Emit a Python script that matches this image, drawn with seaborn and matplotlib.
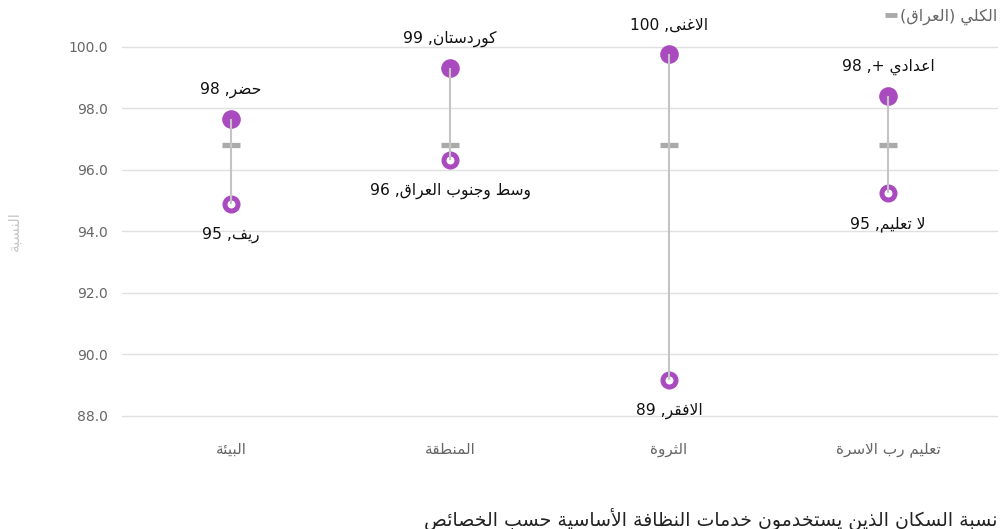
import re
import matplotlib
matplotlib.use("Agg")
import matplotlib.pyplot as plt
from matplotlib.lines import Line2D
import seaborn as sns
import pandas as pd

# ---------------- data ----------------
categories = ['البيئة', 'المنطقة', 'الثروة', 'تعليم رب الاسرة']
high_names = ['حضر', 'كوردستان', 'الاغنى', 'اعدادي +']
high_values = [97.66, 99.32, 99.77, 98.41]
low_names = ['ريف', 'وسط وجنوب العراق', 'الافقر', 'لا تعليم']
low_values = [94.90, 96.33, 89.17, 95.25]
total_values = [96.81, 96.81, 96.81, 96.81]
y_ticks = [88, 90, 92, 94, 96, 98, 100]
legend_label = 'الكلي (العراق)'
y_label = 'النسبة'
title = 'نسبة السكان الذين يستخدمون خدمات النظافة الأساسية حسب الخصائص'

# ---------------- minimal Arabic shaping + RTL ordering ----------------
DUAL = {'ب': 0xFE8F, 'ت': 0xFE95, 'ث': 0xFE99, 'ج': 0xFE9D, 'ح': 0xFEA1,
        'خ': 0xFEA5, 'س': 0xFEB1, 'ش': 0xFEB5, 'ص': 0xFEB9, 'ض': 0xFEBD,
        'ط': 0xFEC1, 'ظ': 0xFEC5, 'ع': 0xFEC9, 'غ': 0xFECD, 'ف': 0xFED1,
        'ق': 0xFED5, 'ك': 0xFED9, 'ل': 0xFEDD, 'م': 0xFEE1, 'ن': 0xFEE5,
        'ه': 0xFEE9, 'ي': 0xFEF1, 'ئ': 0xFE89}
RIGHT = {'ا': 0xFE8D, 'أ': 0xFE83, 'إ': 0xFE87, 'آ': 0xFE81, 'ة': 0xFE93,
         'د': 0xFEA9, 'ذ': 0xFEAB, 'ر': 0xFEAD, 'ز': 0xFEAF, 'و': 0xFEED,
         'ى': 0xFEEF, 'ؤ': 0xFE85}
LAMALEF = {'ا': 0xFEFB, 'أ': 0xFEF7, 'إ': 0xFEF9, 'آ': 0xFEF5}


def shape(s):
    toks = []
    i = 0
    while i < len(s):
        c = s[i]
        if c == 'ل' and i + 1 < len(s) and s[i + 1] in LAMALEF:
            toks.append(('LA', LAMALEF[s[i + 1]]))
            i += 2
        else:
            toks.append((c, None))
            i += 1

    def kind(t):
        if t[0] == 'LA':
            return 'R'
        if t[0] in DUAL:
            return 'D'
        if t[0] in RIGHT:
            return 'R'
        return None

    out = []
    for j, t in enumerate(toks):
        k = kind(t)
        if k is None:
            out.append(t[0])
            continue
        prev = kind(toks[j - 1]) if j > 0 else None
        nxt = kind(toks[j + 1]) if j + 1 < len(toks) else None
        jp = prev == 'D'
        jn = k == 'D' and nxt is not None
        base = t[1] if t[0] == 'LA' else DUAL.get(t[0], RIGHT.get(t[0]))
        off = 3 if (jp and jn) else 1 if jp else 2 if jn else 0
        out.append(chr(base + off))
    return ''.join(out)


def ar(s):
    v = shape(s)[::-1]
    v = re.sub(r'[0-9]+(?:\.[0-9]+)?', lambda m: m.group(0)[::-1], v)
    return v.translate(str.maketrans({'(': ')', ')': '('}))


# ---------------- plot ----------------
sns.set_theme(style="whitegrid")
plt.rcParams['font.family'] = ['DejaVu Sans']

purple = '#A94BBF'
fig = plt.figure(figsize=(10, 5.29), dpi=100)
ax = fig.add_axes([0.1215, 0.202, 0.876, 0.7557])

xs = list(range(len(categories)))
df = pd.DataFrame({'x': xs, 'high': high_values, 'low': low_values,
                   'total': total_values})

ax.vlines(df['x'], df['low'], df['high'], color='#c4c4c4', lw=1.5, zorder=5)
sns.scatterplot(data=df, x='x', y='total', ax=ax, marker='_', s=175,
                linewidth=3.8, color='#aaaaaa', zorder=4, legend=False)
sns.scatterplot(data=df, x='x', y='high', ax=ax, marker='o', s=180,
                color=purple, edgecolor=purple, linewidth=0, zorder=3,
                legend=False)
sns.scatterplot(data=df, x='x', y='low', ax=ax, marker='o', s=88,
                facecolor='white', edgecolor=purple, linewidth=3.6, zorder=3,
                legend=False)

for x, n, v in zip(xs, high_names, high_values):
    ax.annotate(ar(f"{n}, {round(v)}"), (x, v), xytext=(0, 21),
                textcoords='offset points', ha='center', va='center',
                fontsize=11.2, color='#111111', zorder=6)
for x, n, v in zip(xs, low_names, low_values):
    ax.annotate(ar(f"{n}, {round(v)}"), (x, v), xytext=(0, -22.5),
                textcoords='offset points', ha='center', va='center',
                fontsize=11.2, color='#111111', zorder=6)

ax.set_xlim(-0.5, 3.5)
ax.set_ylim(87.8, 100.8)
ax.set_yticks(y_ticks)
ax.set_yticklabels([f"{t:.1f}" for t in y_ticks])
ax.set_xticks(xs)
ax.set_xticklabels([ar(c) for c in categories])
ax.tick_params(axis='y', labelsize=10, labelcolor='#666666', pad=10, length=0)
ax.tick_params(axis='x', labelsize=11, labelcolor='#666666', pad=14, length=0)
ax.grid(axis='x', visible=False)
ax.grid(axis='y', color='#e0e0e0', lw=1)
for sp in ax.spines.values():
    sp.set_visible(False)
ax.set_xlabel('')
ax.set_ylabel('')

fig.text(0.014, 1 - 231 / 529, ar(y_label), rotation=90, ha='center',
         va='center', fontsize=11, color='#c8c8c8')

handle = Line2D([], [], marker='_', linestyle='none', markersize=9,
                markeredgewidth=3.5, color='#aaaaaa')
fig.legend([handle], [ar(legend_label)], loc='center right',
           bbox_to_anchor=(0.999, 1 - 17 / 529), frameon=False,
           handletextpad=0.1, handlelength=0.9, borderaxespad=0,
           borderpad=0.1, prop={'size': 11.5}, labelcolor='#666666')

fig.text(0.998, 1 - 519 / 529, ar(title), ha='right', va='center',
         fontsize=13.6, color='#222222')

fig.savefig('out.png', dpi=100)
